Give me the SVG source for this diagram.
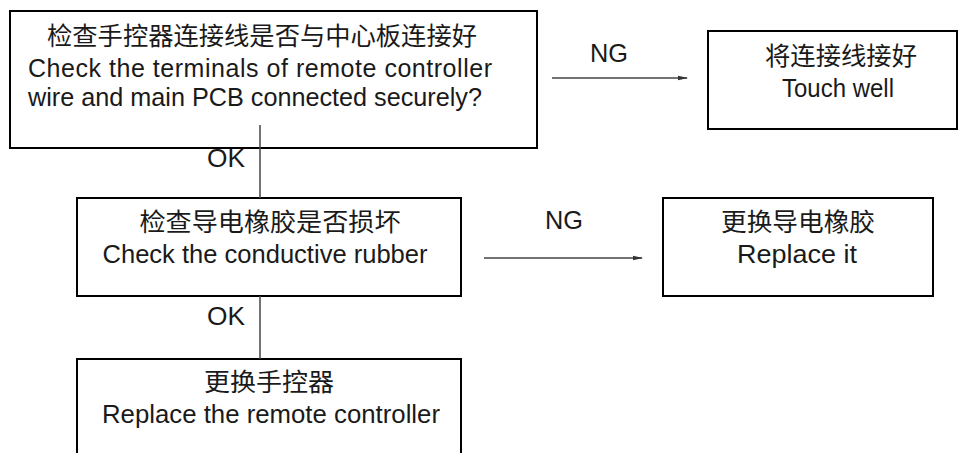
<svg xmlns="http://www.w3.org/2000/svg" width="967" height="453" viewBox="0 0 967 453">
<style>
.box{fill:#fff;stroke:#000;stroke-width:2}
.t{font-family:"Liberation Sans","Noto Sans CJK SC",sans-serif;font-size:25px;fill:#1a1a1a;text-anchor:middle}
.c{stroke:#444;stroke-width:1.5;fill:none}
</style>
<defs>
<marker id="ah" markerWidth="10" markerHeight="6" refX="9" refY="3" orient="auto" markerUnits="userSpaceOnUse">
<path d="M0,0.8 L10,3 L0,5.2 z" fill="#333"/>
</marker>
</defs>
<rect width="967" height="453" fill="#fff"/>
<g id="n1">
<rect class="box" x="10" y="11" width="527" height="137"/>
<text class="t" x="262" y="45" textLength="430" lengthAdjust="spacingAndGlyphs">检查手控器连接线是否与中心板连接好</text>
<text class="t" x="260" y="77" textLength="464" lengthAdjust="spacing">Check the terminals of remote controller</text>
<text class="t" x="255" y="106" textLength="454" lengthAdjust="spacingAndGlyphs">wire and main PCB connected securely?</text>
</g>
<g id="n2">
<rect class="box" x="708" y="31" width="249" height="98"/>
<text class="t" x="841" y="65" textLength="152" lengthAdjust="spacingAndGlyphs">将连接线接好</text>
<text class="t" x="838" y="97" textLength="112" lengthAdjust="spacingAndGlyphs">Touch well</text>
</g>
<g id="n3">
<rect class="box" x="77" y="198" width="384" height="98"/>
<text class="t" x="270" y="231" textLength="261" lengthAdjust="spacingAndGlyphs">检查导电橡胶是否损坏</text>
<text class="t" x="265" y="263" textLength="325" lengthAdjust="spacingAndGlyphs">Check the conductive rubber</text>
</g>
<g id="n4">
<rect class="box" x="663" y="198" width="270" height="98"/>
<text class="t" x="798" y="231" textLength="154" lengthAdjust="spacingAndGlyphs">更换导电橡胶</text>
<text class="t" x="797" y="263" textLength="120" lengthAdjust="spacingAndGlyphs">Replace it</text>
</g>
<g id="n5">
<rect class="box" x="77" y="359" width="384" height="100"/>
<text class="t" x="269" y="391" textLength="130" lengthAdjust="spacingAndGlyphs">更换手控器</text>
<text class="t" x="271" y="423" textLength="338" lengthAdjust="spacingAndGlyphs">Replace the remote controller</text>
</g>
<g id="connectors">
<line class="c" x1="552" y1="78" x2="687" y2="78" marker-end="url(#ah)"/>
<text class="t" x="609" y="62" textLength="38" lengthAdjust="spacingAndGlyphs">NG</text>
<line class="c" x1="260" y1="125" x2="260" y2="198"/>
<text class="t" x="226" y="167" textLength="38" lengthAdjust="spacingAndGlyphs">OK</text>
<line class="c" x1="484" y1="258" x2="642" y2="258" marker-end="url(#ah)"/>
<text class="t" x="564" y="229" textLength="38" lengthAdjust="spacingAndGlyphs">NG</text>
<line class="c" x1="260" y1="296" x2="260" y2="359"/>
<text class="t" x="226" y="325" textLength="38" lengthAdjust="spacingAndGlyphs">OK</text>
</g>
</svg>
